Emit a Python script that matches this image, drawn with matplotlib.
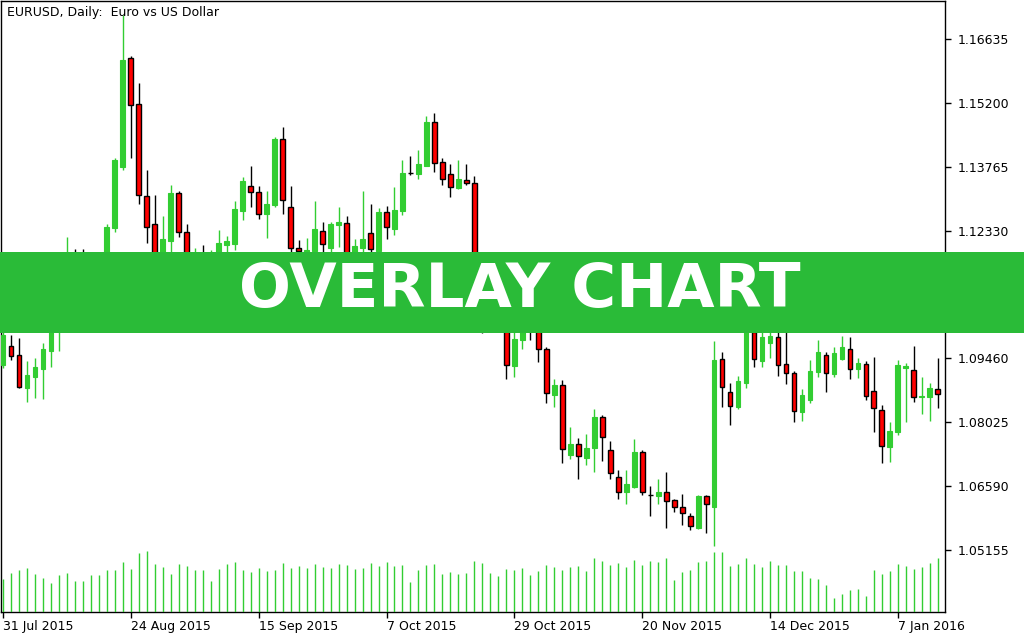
import matplotlib
matplotlib.use("Agg")
import matplotlib.pyplot as plt
from matplotlib.patches import Rectangle

opens = [1.0931,1.0974,1.0954,1.0880,1.0905,1.0922,1.0963,1.1010,1.1077,1.1162,
         1.1122,1.1095,1.1133,1.1167,1.1238,1.1375,1.1621,1.1518,1.1310,1.1247,
         1.1155,1.1209,1.1317,1.1229,1.1155,1.1178,1.1133,1.1185,1.1200,1.1202,
         1.1276,1.1333,1.1319,1.1270,1.1290,1.1438,1.1285,1.1193,1.1185,1.1187,
         1.1232,1.1193,1.1245,1.1249,1.1178,1.1193,1.1227,1.1187,1.1274,1.1236,
         1.1276,1.1362,1.1360,1.1379,1.1476,1.1386,1.1360,1.1328,1.1346,1.1341,
         1.1099,1.1043,1.1077,1.1043,1.0929,1.0988,1.1028,1.1032,1.0967,1.0864,
         1.0887,1.0730,1.0754,1.0723,1.0745,1.0815,1.0741,1.0680,1.0645,1.0658,
         1.0736,1.0640,1.0638,1.0647,1.0627,1.0613,1.0593,1.0566,1.0638,1.0613,
         1.0945,1.0871,1.0837,1.0891,1.1005,1.0940,1.0981,1.0994,1.0934,1.0913,
         1.0826,1.0853,1.0916,1.0954,1.0911,1.0945,1.0967,1.0922,1.0934,1.0873,
         1.0831,1.0748,1.0781,1.0925,1.0920,1.0860,1.0860,1.0878]
highs = [1.1028,1.0999,1.0992,1.0940,1.0947,1.0981,1.1021,1.1077,1.1218,1.1191,
         1.1191,1.1167,1.1171,1.1247,1.1395,1.1718,1.1626,1.1565,1.1368,1.1312,
         1.1265,1.1335,1.1323,1.1247,1.1193,1.1200,1.1189,1.1234,1.1220,1.1299,
         1.1353,1.1377,1.1333,1.1323,1.1444,1.1465,1.1333,1.1211,1.1216,1.1299,
         1.1252,1.1252,1.1285,1.1265,1.1214,1.1321,1.1292,1.1283,1.1288,1.1330,
         1.1391,1.1400,1.1415,1.1491,1.1498,1.1397,1.1382,1.1391,1.1382,1.1355,
         1.1122,1.1099,1.1099,1.1077,1.1010,1.1032,1.1066,1.1077,1.0972,1.0900,
         1.0898,1.0793,1.0768,1.0777,1.0833,1.0819,1.0761,1.0696,1.0696,1.0766,
         1.0741,1.0660,1.0676,1.0692,1.0631,1.0642,1.0598,1.0640,1.0640,1.0985,
         1.0961,1.0891,1.0907,1.1014,1.1021,1.1032,1.1037,1.1021,1.1010,1.0918,
         1.0878,1.0943,1.0988,1.0961,1.0972,1.0997,1.0994,1.0947,1.0940,1.0949,
         1.0842,1.0804,1.0943,1.0936,1.0974,1.0905,1.0891,1.0947]
lows = [1.0925,1.0943,1.0880,1.0849,1.0857,1.0855,1.0927,1.0963,1.1043,1.1099,
        1.1077,1.1066,1.1099,1.1144,1.1229,1.1368,1.1397,1.1292,1.1205,1.1133,
        1.1122,1.1178,1.1218,1.1144,1.1122,1.1111,1.1099,1.1155,1.1171,1.1189,
        1.1256,1.1285,1.1258,1.1216,1.1285,1.1270,1.1171,1.1162,1.1162,1.1176,
        1.1182,1.1178,1.1196,1.1162,1.1162,1.1176,1.1176,1.1180,1.1214,1.1223,
        1.1267,1.1357,1.1348,1.1377,1.1364,1.1335,1.1308,1.1326,1.1335,1.1077,
        1.1003,1.1021,1.1010,1.0900,1.0905,1.0967,1.0988,1.0938,1.0847,1.0837,
        1.0711,1.0721,1.0676,1.0707,1.0692,1.0716,1.0676,1.0631,1.0618,1.0656,
        1.0640,1.0593,1.0620,1.0566,1.0602,1.0571,1.0560,1.0564,1.0555,1.0524,
        1.0837,1.0797,1.0833,1.0880,1.0927,1.0927,1.0947,1.0907,1.0889,1.0804,
        1.0806,1.0846,1.0905,1.0871,1.0905,1.0943,1.0900,1.0902,1.0853,1.0781,
        1.0712,1.0714,1.0773,1.0804,1.0849,1.0822,1.0806,1.0835]
closes = [1.0999,1.0952,1.0882,1.0909,1.0927,1.0967,1.1010,1.1055,1.1155,1.1122,
          1.1099,1.1144,1.1162,1.1241,1.1391,1.1617,1.1516,1.1312,1.1241,1.1162,
          1.1214,1.1317,1.1229,1.1162,1.1178,1.1144,1.1171,1.1205,1.1209,1.1281,
          1.1344,1.1319,1.1270,1.1292,1.1438,1.1301,1.1193,1.1187,1.1189,1.1236,
          1.1202,1.1247,1.1252,1.1182,1.1198,1.1214,1.1191,1.1274,1.1241,1.1279,
          1.1362,1.1362,1.1382,1.1476,1.1384,1.1350,1.1330,1.1348,1.1341,1.1099,
          1.1055,1.1077,1.1032,1.0931,1.0990,1.1021,1.1010,1.0967,1.0869,1.0887,
          1.0743,1.0754,1.0727,1.0745,1.0815,1.0770,1.0689,1.0647,1.0663,1.0736,
          1.0647,1.0640,1.0647,1.0625,1.0613,1.0598,1.0569,1.0636,1.0618,1.0943,
          1.0882,1.0840,1.0896,1.1005,1.0945,1.0994,1.0997,1.0931,1.0913,1.0829,
          1.0864,1.0918,1.0961,1.0913,1.0958,1.0972,1.0922,1.0936,1.0862,1.0835,
          1.0750,1.0784,1.0931,1.0929,1.0860,1.0861,1.0880,1.0866]
volumes = [100,116,125,131,113,101,86,110,116,92,92,110,110,125,125,149,128,176,182,143,
           134,113,143,137,125,125,92,128,143,149,125,119,131,122,125,146,131,137,131,143,
           134,131,143,140,128,131,146,137,149,137,140,89,125,140,143,113,119,113,116,152,
           146,116,107,128,125,131,110,122,140,134,125,134,137,122,161,152,140,146,134,155,
           140,152,149,161,95,119,125,149,152,179,179,137,143,161,143,134,152,140,140,122,
           122,101,98,80,41,53,65,68,47,125,113,122,143,137,128,134,146,161]

price_ticks = [1.05155, 1.06590, 1.08025, 1.09460, 1.10895, 1.12330, 1.13765, 1.15200, 1.16635]
date_labels = ["31 Jul 2015", "24 Aug 2015", "15 Sep 2015", "7 Oct 2015",
               "29 Oct 2015", "20 Nov 2015", "14 Dec 2015", "7 Jan 2016"]
date_index = [0, 16, 32, 48, 64, 80, 96, 112]

GREEN = "#32cd32"
W, H = 1024, 640
fig = plt.figure(figsize=(W/100, H/100), dpi=100)
ax = fig.add_axes([1/W, 1-612/H, 944/W, 611/H])
vax = ax.twinx()
vax.set_ylim(0, 1836)
vax.axis("off")

n = len(opens)
for i in range(n):
    o, h, l, c = opens[i], highs[i], lows[i], closes[i]
    if c > o:
        ax.vlines(i, l, h, color=GREEN, lw=1, zorder=2)
        ax.add_patch(Rectangle((i-0.3, o), 0.6, c-o, facecolor=GREEN, edgecolor=GREEN, lw=0.8, zorder=3))
    else:
        ax.vlines(i, l, h, color="black", lw=1, zorder=2)
        ax.add_patch(Rectangle((i-0.3, c), 0.6, o-c, facecolor="red", edgecolor="black", lw=1, zorder=3))
    vax.vlines(i, 0, volumes[i], color=GREEN, lw=1)

ax.set_xlim(-0.25, 117.9)
ax.set_ylim(1.03766, 1.17486)
ax.yaxis.tick_right()
ax.set_yticks(price_ticks)
ax.set_yticklabels([f"{t:.5f}" for t in price_ticks])
ax.set_xticks(date_index)
ax.set_xticklabels(date_labels, ha="left")
ax.tick_params(axis="both", direction="out", length=4, width=1, labelsize=9, pad=2)
ax.tick_params(axis="y", pad=5)
for s in ax.spines.values():
    s.set_linewidth(1)
for s in vax.spines.values():
    s.set_visible(False)
ax.text(0.006, 0.992, "EURUSD, Daily:  Euro vs US Dollar", transform=ax.transAxes,
        fontsize=9, va="top", ha="left")

fig.patches.append(Rectangle((0, 1-333/H), 1, 81/H, transform=fig.transFigure,
                             facecolor="#2abb38", edgecolor="none", zorder=10))
fig.text(520/W, 1-290/H, "OVERLAY CHART", color="white", fontsize=44,
         family="DejaVu Sans", fontweight="bold", ha="center", va="center", zorder=11)

fig.savefig("out.png", dpi=100)
